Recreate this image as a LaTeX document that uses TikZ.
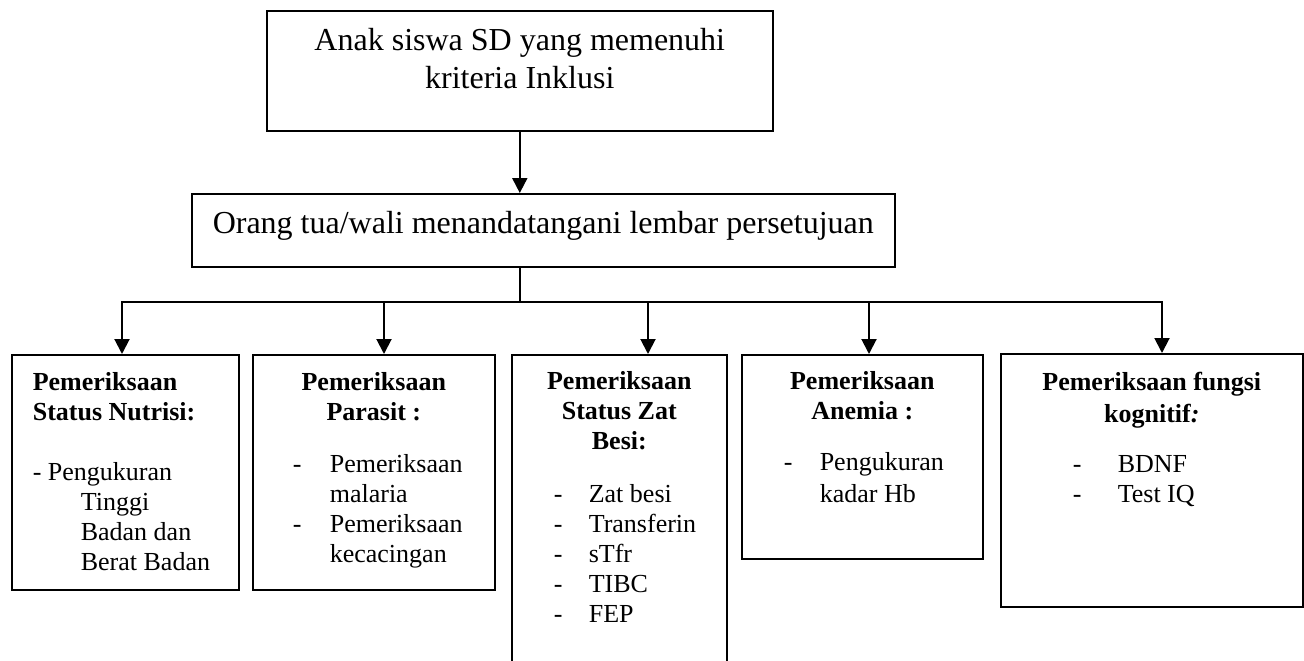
\documentclass[tikz,border=0pt]{standalone}
\usepackage{fontspec}
\setmainfont{Liberation Serif}
\usetikzlibrary{arrows.meta}
\newcommand\besar{\fontsize{32}{38}\selectfont}
\newcommand\kecil{\fontsize{26}{30}\selectfont}
\newcommand\butir[2]{\hspace*{#1pt}\makebox[#2pt][l]{-}}

\begin{document}
\begin{tikzpicture}[x=1pt,y=-1pt,
  kotak/.style={draw,line width=1.6pt,inner sep=0pt,anchor=north west},
  panah/.style={line width=2pt,-{Triangle[length=15pt,width=15pt]}},
  garis/.style={line width=2pt,line cap=rect}]
\useasboundingbox (0,0) rectangle (1304,661);

\node[kotak] (syarat) at (266,10) {\parbox[t][120pt][t]{506pt}{\centering\besar
  \rule{0pt}{40pt}Anak siswa SD yang memenuhi\\ kriteria Inklusi}};
\node[kotak] (setuju) at (191,193) {\parbox[t][73pt][t]{703pt}{\centering\besar
  \rule{0pt}{40pt}Orang tua/wali menandatangani lembar persetujuan}};

\node[kotak] (nutrisi) at (11,354) {\parbox[t][235pt][t]{227pt}{\kecil\raggedright
  \rule{0pt}{36pt}\hspace*{21pt}\textbf{Pemeriksaan}\\
  \hspace*{21pt}\textbf{Status Nutrisi:}\\[30pt]
  \hspace*{21pt}- Pengukuran\\
  \hspace*{69pt}Tinggi\\
  \hspace*{69pt}Badan dan\\
  \hspace*{69pt}Berat Badan}};

\node[kotak] (parasit) at (252,354) {\parbox[t][235pt][t]{242pt}{\kecil
  \centering\rule{0pt}{36pt}\textbf{Pemeriksaan}\\ \textbf{Parasit :}\par
  \vspace{22pt}\raggedright
  \butir{40}{37}Pemeriksaan\\ \hspace*{77pt}malaria\\
  \butir{40}{37}Pemeriksaan\\ \hspace*{77pt}kecacingan}};

\node[kotak] (besi) at (511,354) {\parbox[t][320pt][t]{215pt}{\kecil
  \centering\rule{0pt}{35pt}\textbf{Pemeriksaan}\\ \textbf{Status Zat}\\ \textbf{Besi:}\par
  \vspace{23pt}\raggedright
  \butir{42}{35}Zat besi\\ \butir{42}{35}Transferin\\ \butir{42}{35}sTfr\\
  \butir{42}{35}TIBC\\ \butir{42}{35}FEP}};

\node[kotak] (anemia) at (741,354) {\parbox[t][204pt][t]{241pt}{\kecil
  \centering\rule{0pt}{35pt}\textbf{Pemeriksaan}\\ \textbf{Anemia :}\par
  \vspace{21pt}\raggedright
  \butir{42}{36}Pengukuran\\[2pt] \hspace*{78pt}kadar Hb}};

\node[kotak] (kognitif) at (1000,353) {\parbox[t][253pt][t]{302pt}{\kecil
  \centering\rule{0pt}{37pt}\textbf{Pemeriksaan fungsi}\\[2pt] \textbf{kognitif\textit{:}}\par
  \vspace{20pt}\raggedright
  \butir{72}{45}BDNF\\ \butir{72}{45}Test IQ}};

\coordinate (c1) at (122,302);
\coordinate (c2) at (384,302);
\coordinate (c3) at (648,302);
\coordinate (c4) at (869,302);
\coordinate (c5) at (1162,302);

\draw[panah] (syarat.south) -- (syarat.south |- setuju.north);
\draw[garis] (syarat.south |- setuju.south) -- (syarat.south |- c1);
\draw[garis] (c1) -- (c5);
\draw[panah] (c1) -- (c1 |- nutrisi.north);
\draw[panah] (c2) -- (c2 |- parasit.north);
\draw[panah] (c3) -- (c3 |- besi.north);
\draw[panah] (c4) -- (c4 |- anemia.north);
\draw[panah] (c5) -- (c5 |- kognitif.north);
\end{tikzpicture}
\end{document}
